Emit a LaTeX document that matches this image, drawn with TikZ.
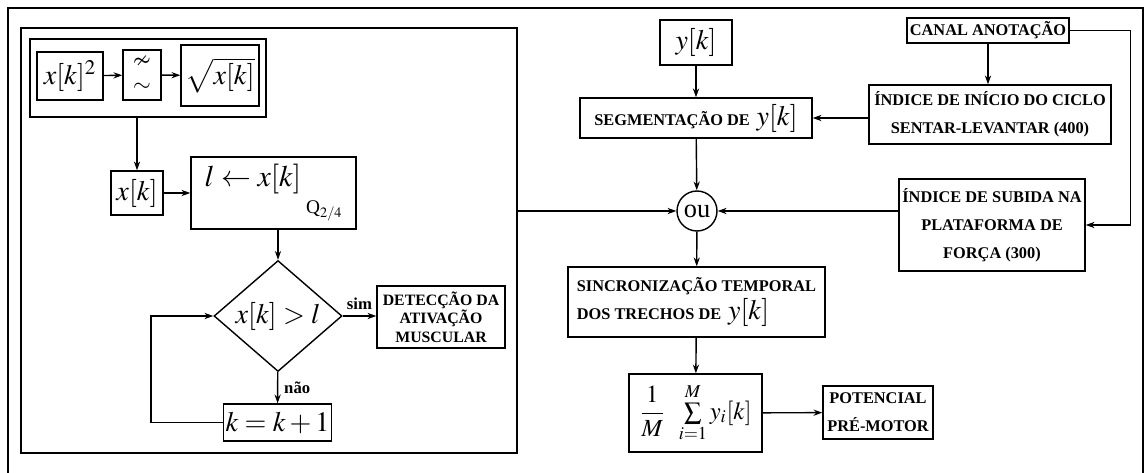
\documentclass[tikz,border=0pt]{standalone}
\usepackage{mathptmx}
\usepackage{amssymb}
\usepackage{fontspec}
\setmainfont{Liberation Serif}
\usetikzlibrary{arrows.meta, shapes.geometric}

\begin{document}
\begin{tikzpicture}[x=0.02cm, y=-0.02cm,
    blk/.style={draw, line width=0.8pt, inner sep=1pt},
    captxt/.style={font=\fontsize{9.3}{16}\selectfont\bfseries, align=center},
    big/.style={font=\fontsize{16}{18}\selectfont},
    lbl/.style={font=\fontsize{9.5}{10}\selectfont\bfseries},
    arr/.style={-{Stealth[length=5pt,width=3.5pt]}, line width=0.8pt}]
    \useasboundingbox (0,0) rectangle (1146,473);
    \draw[line width=0.6pt] (8,480) |- (1143,8) -- (1143,480);

    % left block: detection of muscular activation
    \node[blk, line width=1pt, minimum width=9.92cm, minimum height=8.5cm] (detect) at (269,240.5) {};
    \node[blk, line width=1.2pt, minimum width=4.72cm, minimum height=1.56cm] (grp) at (148,78) {};
    \node[blk, big, minimum width=1.32cm, minimum height=0.96cm] (sq) at (70,76) {$x[k]^2$};
    \node[blk, font=\fontsize{13}{14.5}\selectfont, align=center, minimum width=0.76cm, minimum height=1cm] (filt) at (142,75) {$\nsim$\\$\sim$};
    \node[blk, big, minimum width=1.56cm, minimum height=1.22cm] (rt) at (220,75.5) {$\sqrt{x[k]}$};
    \node[blk, big, minimum width=1.04cm, minimum height=0.88cm] (xk) at (137,193) {$x[k]$};
    \node[blk, font=\fontsize{17}{18}\selectfont, minimum width=3.3cm, minimum height=1.44cm] (lbox) at (273.5,193)
      {$l\leftarrow x[k]$\,\raisebox{-0.9em}{\fontsize{11}{12}\selectfont Q$_{2/4}$}};
    \node[draw, diamond, line width=0.8pt, inner sep=0pt, aspect=1.15, big,
      minimum width=2.56cm, minimum height=2.22cm] (dia) at (278,316) {$x[k]>l$};
    \node[blk, font=\fontsize{9}{10.5}\selectfont\bfseries, align=center,
      minimum width=2.56cm, minimum height=1.24cm] (det) at (441,317) {DETECÇÃO DA\\ATIVAÇÃO\\MUSCULAR};
    \node[blk, big, minimum width=2.1cm, minimum height=0.74cm] (kbox) at (277.5,422.5) {$k=k+1$};

    % right block: pre-motor potential
    \node[blk, big, minimum width=1.44cm, minimum height=0.9cm] (ytop) at (696,42.5) {$y[k]$};
    \node[blk, captxt, minimum width=4.64cm, minimum height=0.8cm] (seg) at (696,118)
      {SEGMENTAÇÃO DE\, {\fontsize{16}{16}\selectfont\mdseries$y[k]$}};
    \node[draw, circle, line width=0.8pt, inner sep=0pt, minimum size=0.8cm, font=\fontsize{15}{15}\selectfont] (ou) at (697,211) {ou};
    \node[blk, captxt, minimum width=3.24cm, minimum height=0.5cm] (canal) at (988,30.5) {CANAL ANOTAÇÃO};
    \node[blk, captxt, minimum width=4.84cm, minimum height=1.18cm] (ini) at (990,114.5)
      {ÍNDICE DE INÍCIO DO CICLO\\SENTAR-LEVANTAR (400)};
    \node[blk, captxt, minimum width=3.72cm, minimum height=1.84cm] (sub) at (992,225)
      {ÍNDICE DE SUBIDA NA\\PLATAFORMA DE\\FORÇA (300)};
    \node[blk, captxt, align=left, minimum width=5.14cm, minimum height=1.4cm] (sync) at (696.5,302)
      {SINCRONIZAÇÃO TEMPORAL\\DOS TRECHOS DE\, {\fontsize{16}{16}\selectfont\mdseries$y[k]$}};
    \node[blk, font=\fontsize{14}{16}\selectfont, minimum width=2.66cm, minimum height=1.56cm] (mean) at (695.5,413)
      {$\displaystyle\frac{1}{M}\;\;\textstyle\sum\limits_{i=1}^{M} y_i[k]$};
    \node[blk, captxt, minimum width=2.2cm, minimum height=1.06cm] (pot) at (878,412.5) {POTENCIAL\\PRÉ-MOTOR};

    % connectors
    \foreach \a/\b in {sq/filt, filt/rt}
      \draw[arr] (\a) -- (\b);
    \draw[arr] (xk |- grp.south) -- (xk);
    \draw[arr] (xk) -- (lbox);
    \draw[arr] (lbox.south -| dia) -- (dia);
    \draw[arr] (dia.east) -- node[lbl, above] {sim} (dia.east -| det.west);
    \draw[arr] (dia) -- node[lbl, right] {não} (kbox);
    \draw[arr] (kbox.west) -- ++(-72,0) |- (dia.west);
    \draw[arr] (ytop) -- (seg);
    \draw[arr] (seg) -- (ou);
    \draw[arr] (detect.east |- ou) -- (ou);
    \draw[arr] (canal) -- (canal |- ini.north);
    \draw[arr] (ini.west |- seg) -- (seg);
    \draw[arr] (canal.east) -- ++(61,0) |- (sub.east);
    \draw[arr] (sub.west |- ou) -- (ou);
    \draw[arr] (ou) -- (sync);
    \draw[arr] (sync) -- (mean);
    \draw[arr] (mean) -- (pot);
\end{tikzpicture}
\end{document}
